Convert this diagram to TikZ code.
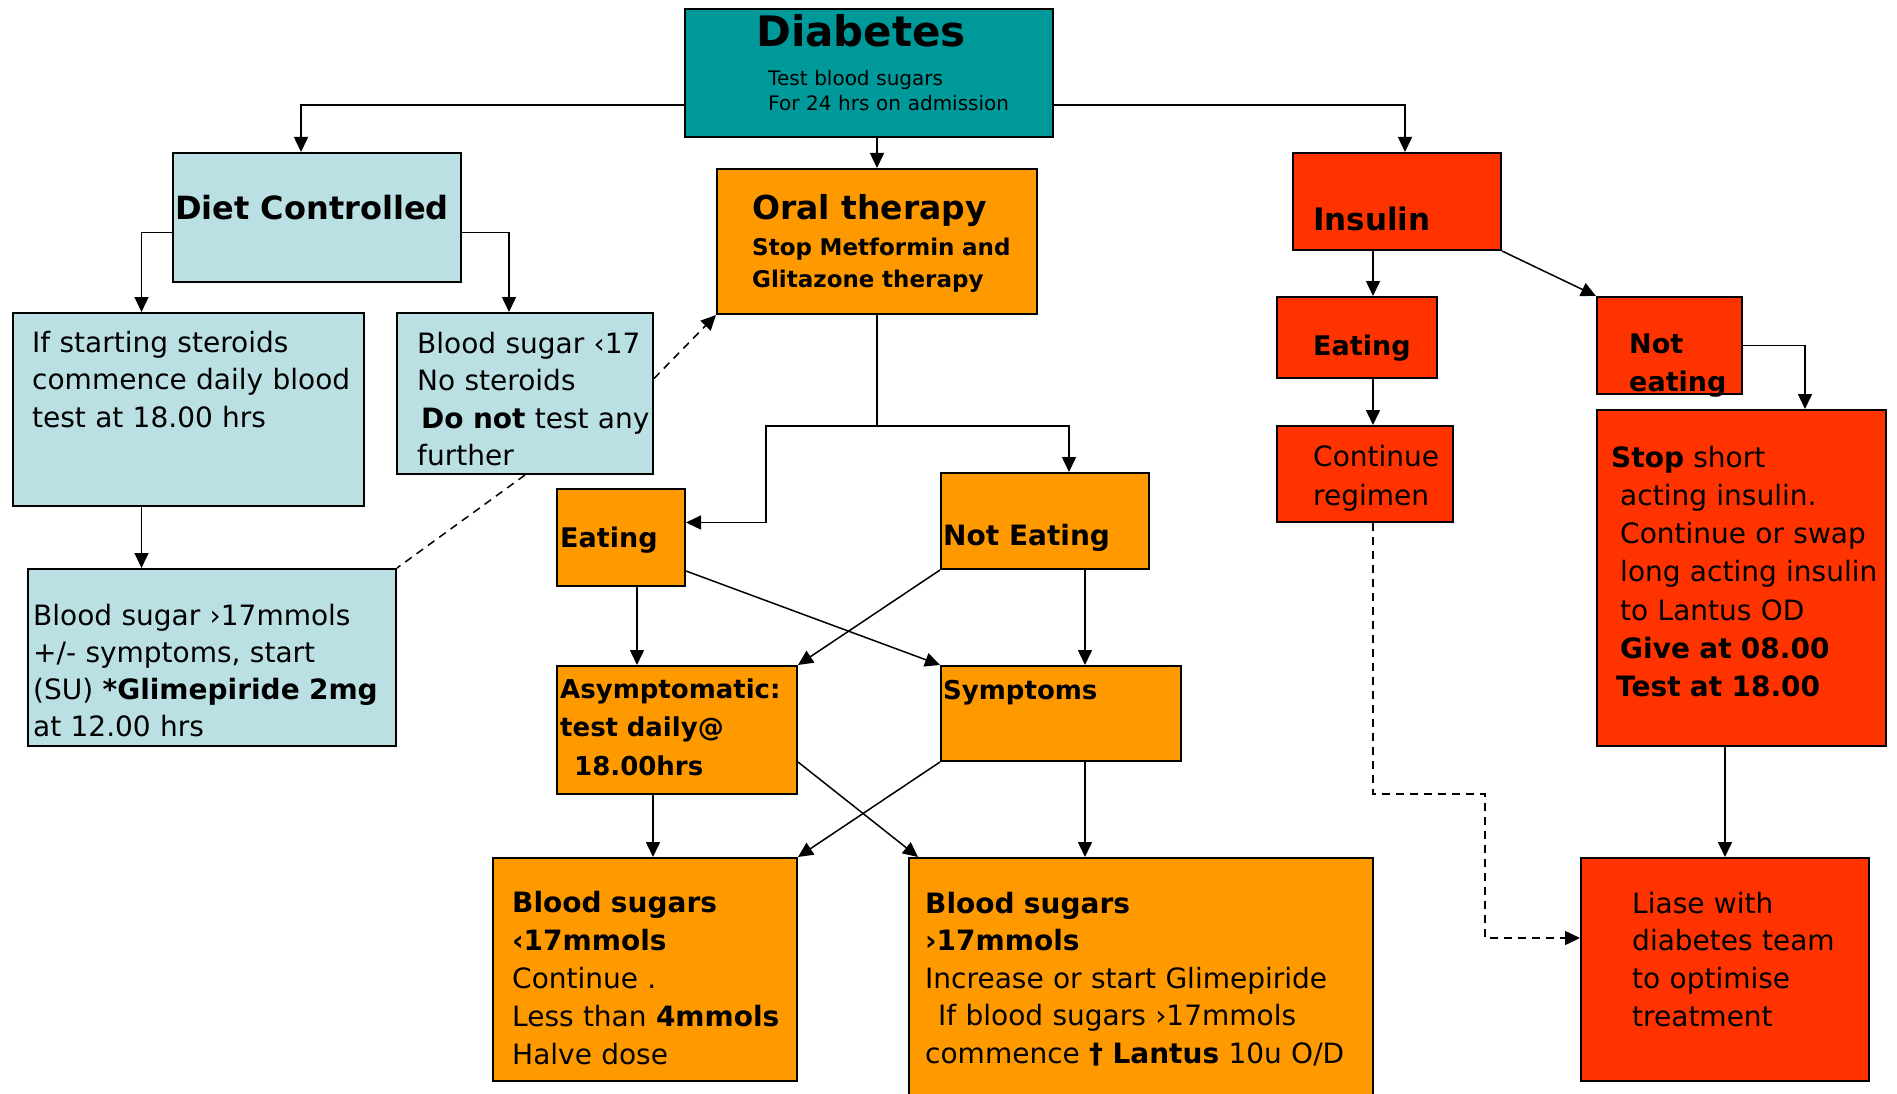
\documentclass[tikz,border=0pt]{standalone}
\usepackage{fontspec}
\setmainfont{DejaVu Sans}
\usetikzlibrary{arrows.meta}
\definecolor{diabteal}{RGB}{0,153,153}
\definecolor{dietblue}{RGB}{187,224,227}
\definecolor{oralorange}{RGB}{255,153,0}
\definecolor{insred}{RGB}{255,51,0}
\newcommand\fsz[2]{\fontsize{#1}{#2}\selectfont}

\begin{document}
\begin{tikzpicture}[x=1pt,y=-1pt,>={Triangle[length=15pt,width=14pt]},
  box/.style={draw,line width=2pt,anchor=north west,inner sep=0pt},
  lbl/.style={anchor=base west,inner sep=0pt},
  txt/.style={anchor=base west,inner sep=0pt,align=left,text width=#1},
  link/.style={line width=1.5pt},
  dash link/.style={line width=1.5pt,dash pattern=on 8pt off 6pt}]
  \useasboundingbox (0,0) rectangle (1897,1094);
  \clip (0,0) rectangle (1897,1094);
  \fill[white] (0,0) rectangle (1897,1094);

  \node[box,fill=diabteal,minimum width=368pt,minimum height=128pt] (diab) at (684,8) {};
  \node[box,fill=dietblue,minimum width=288pt,minimum height=129pt] (diet) at (172,152) {};
  \node[box,fill=oralorange,minimum width=320pt,minimum height=145pt] (oral) at (716,168) {};
  \node[box,fill=insred,minimum width=208pt,minimum height=97pt] (insulin) at (1292,152) {};
  \node[box,fill=dietblue,minimum width=351pt,minimum height=193pt] (steroid) at (12,312) {};
  \node[box,fill=dietblue,minimum width=256pt,minimum height=161pt] (nostero) at (396,312) {};
  \node[box,fill=dietblue,minimum width=368pt,minimum height=177pt] (sugHigh) at (27,568) {};
  \node[box,fill=oralorange,minimum width=128pt,minimum height=97pt] (eatO) at (556,488) {};
  \node[box,fill=oralorange,minimum width=208pt,minimum height=96pt] (noteatO) at (940,472) {};
  \node[box,fill=oralorange,minimum width=240pt,minimum height=128pt] (asym) at (556,665) {};
  \node[box,fill=oralorange,minimum width=240pt,minimum height=95pt] (symp) at (940,665) {};
  \node[box,fill=oralorange,minimum width=304pt,minimum height=223pt] (bsLow) at (492,857) {};
  \node[box,fill=oralorange,minimum width=464pt,minimum height=260pt] (bsHigh) at (908,857) {};
  \node[box,fill=insred,minimum width=160pt,minimum height=81pt] (eatI) at (1276,296) {};
  \node[box,fill=insred,minimum width=145pt,minimum height=97pt] (noteatI) at (1596,296) {};
  \node[box,fill=insred,minimum width=176pt,minimum height=96pt] (contI) at (1276,425) {};
  \node[box,fill=insred,minimum width=289pt,minimum height=336pt] (stop) at (1596,409) {};
  \node[box,fill=insred,minimum width=288pt,minimum height=223pt] (liase) at (1580,857) {};

  \node[anchor=base,inner sep=0pt,font=\bfseries\fsz{42}{50}] (diabT) at (861,47) {Diabetes};
  \node[txt=280pt,font=\fsz{20}{25}] (diabS) at (768,86) {Test blood sugars\\For 24 hrs on admission};
  \node[lbl,font=\bfseries\fsz{32}{38}] (dietT) at (175,219) {Diet Controlled};
  \node[lbl,font=\bfseries\fsz{33}{40}] (oralT) at (752,219) {Oral therapy};
  \node[txt=280pt,font=\bfseries\fsz{23}{32}] (oralS) at (752,255) {Stop Metformin and\\Glitazone therapy};
  \node[lbl,font=\bfseries\fsz{31}{38}] (insulinT) at (1313,230) {Insulin};
  \node[txt=330pt,font=\fsz{28}{37.5}] (steroidT) at (32,352) {If starting steroids\\commence daily blood\\test at 18.00 hrs};
  \node[txt=240pt,font=\fsz{28}{37.5}] (nosteroT) at (417,353) {Blood sugar ‹17\\No steroids\\\hspace*{4pt}\textbf{Do not} test any\\further};
  \node[txt=360pt,font=\fsz{28}{37.3}] (sugHighT) at (33,625) {Blood sugar ›17mmols\\+/- symptoms, start\\(SU) \textbf{*Glimepiride 2mg}\\at 12.00 hrs};
  \node[lbl,font=\bfseries\fsz{27}{32}] (eatOT) at (560,547) {Eating};
  \node[lbl,font=\bfseries\fsz{28}{32}] (noteatOT) at (943,545) {Not Eating};
  \node[txt=236pt,font=\bfseries\fsz{26}{38.5}] (asymT) at (560,698) {Asymptomatic:\\test daily@\\\hspace*{14pt}18.00hrs};
  \node[lbl,font=\bfseries\fsz{26}{32}] (sympT) at (943,699) {Symptoms};
  \node[txt=280pt,font=\fsz{28}{38}] (bsLowT) at (512,912) {\textbf{Blood sugars}\\\textbf{‹17mmols}\\Continue .\\Less than \textbf{4mmols}\\Halve dose};
  \node[txt=440pt,font=\fsz{28}{37.5}] (bsHighT) at (925,913) {\textbf{Blood sugars}\\\textbf{›17mmols}\\Increase or start Glimepiride\\\hspace*{13pt}If blood sugars ›17mmols\\commence \textbf{† Lantus} 10u O/D};
  \node[lbl,font=\bfseries\fsz{27}{32}] (eatIT) at (1313,355) {Eating};
  \node[txt=110pt,font=\bfseries\fsz{27}{38}] (noteatIT) at (1629,353) {Not\\eating};
  \node[txt=135pt,font=\fsz{28}{39}] (contIT) at (1313,466) {Continue\\regimen};
  \node[txt=270pt,font=\fsz{28}{38.3}] (stopT) at (1611,467) {\textbf{Stop} short\\\hspace*{9pt}acting insulin.\\\hspace*{9pt}Continue or swap\\\hspace*{9pt}long acting insulin\\\hspace*{9pt}to Lantus OD\\\hspace*{9pt}\textbf{Give at 08.00}\\\hspace*{5pt}\textbf{Test at 18.00}};
  \node[txt=230pt,font=\fsz{28}{37.7}] (liaseT) at (1632,913) {Liase with\\diabetes team\\to optimise\\treatment};

  \draw[link,->] ([yshift=-32pt]diab.west) -| ([xshift=-16pt]diet.north);
  \draw[link,->] (diab.south -| oral.north) -- (oral.north);
  \draw[link,->] ([yshift=-32pt]diab.east) -| ([xshift=8pt]insulin.north);
  \draw[link,->] ([yshift=-15pt]diet.west) -| ([xshift=-47pt]steroid.north);
  \draw[link,->] ([yshift=-15pt]diet.east) -| ([xshift=-16pt]nostero.north);
  \draw[dash link,->] ([yshift=15pt]nostero.east) -- (oral.south west);
  \draw[dash link] (nostero.south) -- (sugHigh.north east);
  \draw[link,->] ([xshift=-47pt]steroid.south) -- ([xshift=-47pt]steroid.south |- sugHigh.north);
  \draw[link,->] (oral.south) -- ++(0,111) coordinate (fork) -| ([xshift=24pt]noteatO.north);
  \draw[link,->] (fork) -- ++(-111,0) |- ([yshift=15pt]eatO.east);
  \draw[link,->] ([xshift=16pt]eatO.south) -- ([xshift=16pt]eatO.south |- asym.north);
  \draw[link,->] ([yshift=16pt]eatO.south east) -- (symp.north west);
  \draw[link,->] (noteatO.south west) -- (asym.north east);
  \draw[link,->] ([xshift=40pt]noteatO.south) -- ([xshift=40pt]noteatO.south |- symp.north);
  \draw[link,->] ([xshift=-24pt]asym.south) -- ([xshift=-24pt]asym.south |- bsLow.north);
  \draw[link,->] ([yshift=33pt]asym.south east) -- ([xshift=10pt]bsHigh.north west);
  \draw[link,->] (symp.south west) -- (bsLow.north east);
  \draw[link,->] ([xshift=24pt]symp.south) -- ([xshift=24pt]symp.south |- bsHigh.north);
  \draw[link,->] ([xshift=-24pt]insulin.south) -- ([xshift=-24pt]insulin.south |- eatI.north);
  \draw[link,->] (insulin.south east) -- (noteatI.north west);
  \draw[link,->] ([xshift=16pt]eatI.south) -- ([xshift=16pt]eatI.south |- contI.north);
  \draw[link,->] (noteatI.east) -| ([xshift=63.5pt]stop.north);
  \draw[dash link,->] ([xshift=8pt]contI.south) |- ++(112,271) |- ([yshift=31.5pt]liase.west);
  \draw[link,->] (stop.south -| liase.north) -- (liase.north);
\end{tikzpicture}
\end{document}
